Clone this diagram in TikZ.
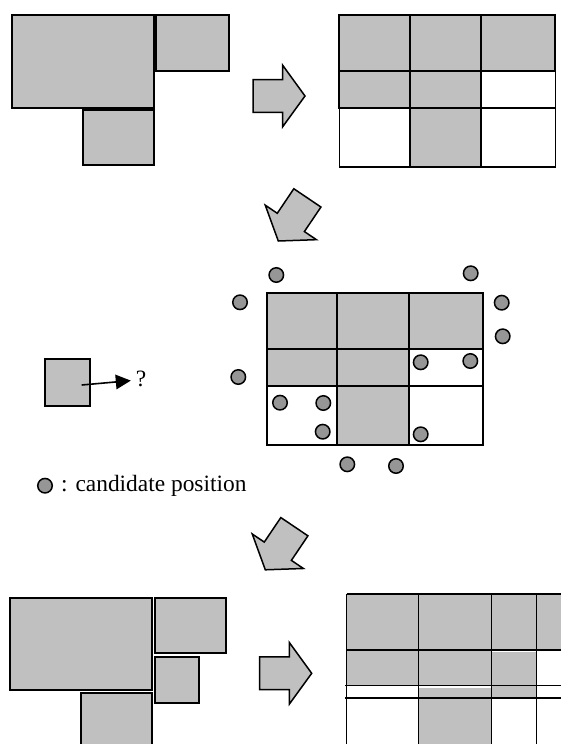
\documentclass[tikz,border=0pt]{standalone}
\usepackage{fontspec}
\setmainfont{Liberation Serif}
\usetikzlibrary{arrows.meta}
\definecolor{blockgray}{RGB}{192,192,192}
\definecolor{dotgray}{RGB}{150,150,150}

% 3x3 occupancy grid: columns #1..#4, rows #5..#8
\newcommand\occgrid[8]{%
  \path[cellwhite] (#3,#6) rectangle (#4,#7);
  \path[cellwhite] (#1,#7) rectangle (#2,#8);
  \path[cellwhite] (#3,#7) rectangle (#4,#8);
  \path[cellgray] (#1,#5) rectangle (#2,#6);
  \path[cellgray] (#2,#5) rectangle (#3,#6);
  \path[cellgray] (#3,#5) rectangle (#4,#6);
  \path[cellgray] (#1,#6) rectangle (#2,#7);
  \path[cellgray] (#2,#6) rectangle (#3,#7);
  \path[cellgray] (#2,#7) rectangle (#3,#8);
}

\begin{document}
\begin{tikzpicture}[x=1bp,y=-1bp,
  block/.style={draw=black,fill=blockgray,line width=2.3bp},
  cellgray/.style={draw=black,fill=blockgray,line width=2.2bp},
  cellwhite/.style={draw=black,fill=white,line width=1.6bp},
  thingrid/.style={draw=black,line width=1.5bp},
  fatarrow/.style={draw=black,fill=blockgray,line width=1.5bp,line join=miter},
  cand/.style={circle,draw=black,fill=dotgray,line width=1.5bp,minimum size=14.5bp,inner sep=0pt},
  txt/.style={font=\fontsize{23.5}{28}\selectfont,inner sep=0pt},
  blockarrow/.pic={\path[fatarrow] (0,0) -- (-22.4,-30.85) -- (-22.4,-16.35)
      -- (-52,-16.35) -- (-52,16.35) -- (-22.4,16.35) -- (-22.4,30.85) -- cycle;}
]
\useasboundingbox (0,0) rectangle (561,744);

% ---- first row: placed blocks and their grid ----
\path[block] (12,15.3) rectangle (154,108.3);
\path[block] (156,15.3) rectangle (228.7,70.7);
\path[block] (83,110) rectangle (154,165.3);

\pic at (305,96) {blockarrow};

\occgrid{339.3}{410}{481.3}{555.3}{15}{71}{108}{166.7}

\pic[rotate=-124] at (278.3,241) {blockarrow};

% ---- second row: new block and candidate positions ----
\node[block,minimum width=45bp,minimum height=47bp,inner sep=0pt] (item) at (67.5,382.7) {};
\coordinate (itemarrow) at (81.7,385);
\node[txt,anchor=base,outer sep=5bp] (query) at (141,386.7) {?};
\draw[line width=1.6bp,-{Triangle[length=15bp,width=14.5bp]}] (itemarrow) -- ([yshift=-1.5bp]query.west);

\occgrid{266.7}{337.3}{409}{482.7}{293.3}{349.3}{386}{445}

\foreach \px/\py [count=\i] in {276.3/275, 470.7/273.3, 240/302.3, 501.7/302.7,
    502.7/336.3, 420.7/362.3, 470.3/361, 238.3/377, 280/402.7, 323.3/403,
    322.7/431.7, 420.7/434.3, 347.3/464.3, 396/466}
  \node[cand] (cand\i) at (\px,\py) {};

\node[cand] (legdot) at (45,485.7) {};
\node[txt,anchor=base west] (legtext) at (61,491.3) {: candidate position};

\pic[rotate=-124] at (265.3,569.8) {blockarrow};

% ---- third row: extra block and refined grid ----
\begin{scope}
\clip (0,0) rectangle (561,744);
\path[block] (10,598.3) rectangle (151.7,690);
\path[block] (155,598.3) rectangle (226,652.7);
\path[block] (155,656.7) rectangle (199,702.7);
\path[block] (81,692.7) rectangle (151.7,760);

\pic at (311.7,673.3) {blockarrow};

\fill[blockgray] (346.7,594) rectangle (570,650);
\fill[blockgray] (346.7,650) rectangle (491.7,685.7);
\fill[blockgray] (418.7,688) rectangle (491.7,760);
\fill[blockgray] (491.7,651.8) rectangle (536.7,698);
\foreach \gx in {346.7,418.7,491.7,536.7}
  \draw[thingrid] (\gx,594) -- (\gx,760);
\draw[thingrid] (346.7,594) -- (570,594);
\draw[thingrid] (346.7,650) -- (570,650);
\draw[thingrid] (345,685.7) -- (570,685.7);
\draw[thingrid] (345,698) -- (570,698);
\end{scope}
\end{tikzpicture}
\end{document}
